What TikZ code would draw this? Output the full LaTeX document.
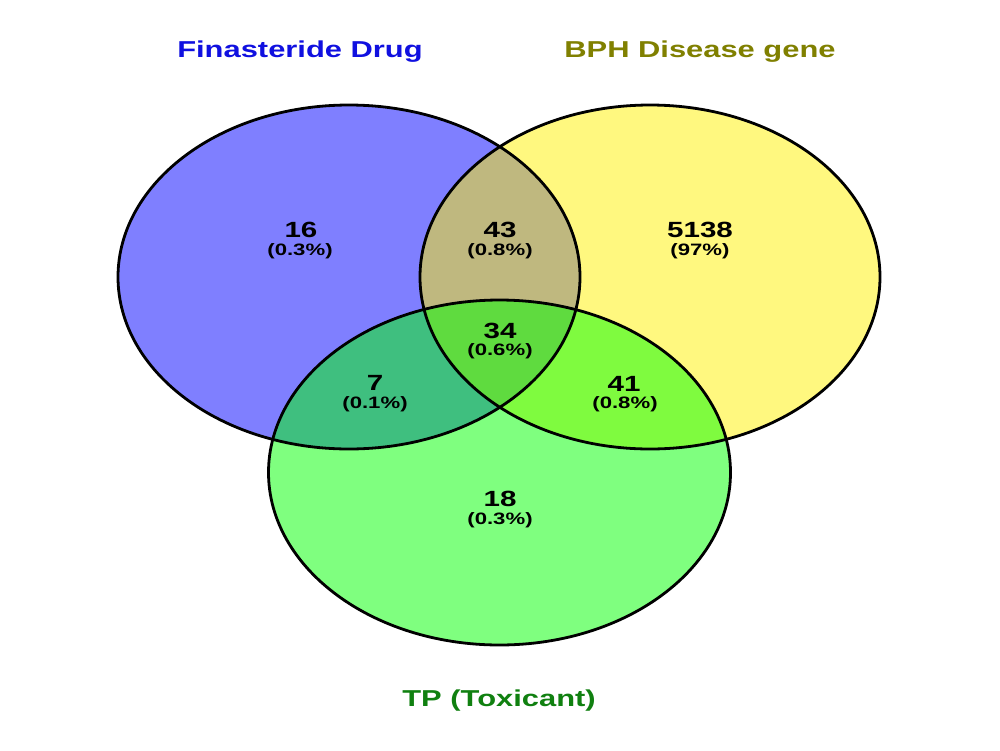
\documentclass[tikz,border=0pt]{standalone}
\usepackage{fontspec}
\setmainfont{Liberation Sans}
\definecolor{ttlblue}{RGB}{16,16,224}
\definecolor{ttlolive}{RGB}{128,128,0}
\definecolor{ttlgreen}{RGB}{16,128,16}
\tikzset{
  setfill/.style={fill opacity=0.5},
  outline/.style={draw=black, line width=2.8pt},
  num/.style={font=\bfseries\fontsize{22}{24}\selectfont, xscale=1.343, anchor=base, inner sep=0pt},
  pct/.style={font=\bfseries\fontsize{16.5}{18}\selectfont, xscale=1.343, anchor=base, inner sep=0pt},
  ttl/.style={font=\bfseries\fontsize{23}{26}\selectfont, xscale=1.343, anchor=base, inner sep=0pt},
}
\begin{document}
\begin{tikzpicture}[x=1pt, y=-1pt]
  \fill[white] (0,0) rectangle (1000,750);
  \useasboundingbox (0,0) rectangle (1000,750);
  % fills
  \fill[blue, setfill] (349,277) ellipse [x radius=231pt, y radius=172pt];
  \fill[yellow, setfill] (650,277) ellipse [x radius=230pt, y radius=172pt];
  \fill[green, setfill] (499.5,472.5) ellipse [x radius=231pt, y radius=172.5pt];
  % outlines
  \draw[outline] (349,277) ellipse [x radius=231pt, y radius=172pt];
  \draw[outline] (650,277) ellipse [x radius=230pt, y radius=172pt];
  \draw[outline] (499.5,472.5) ellipse [x radius=231pt, y radius=172.5pt];
  % titles
  \node[ttl, text=ttlblue] (tfin) at (300,57) {Finasteride Drug};
  \node[ttl, text=ttlolive] (tbph) at (700,57) {BPH Disease gene};
  \node[ttl, text=ttlgreen] (ttp) at (499,706) {TP (Toxicant)};
  % counts
  \node[num] (n16) at (301,237) {16};
  \node[pct] (p16) at (300,255) {(0.3\%)};
  \node[num] (n43) at (500,237) {43};
  \node[pct] (p43) at (500,255) {(0.8\%)};
  \node[num] (n5138) at (700,237) {5138};
  \node[pct] (p5138) at (700,255) {(97\%)};
  \node[num] (n34) at (500,338) {34};
  \node[pct] (p34) at (500,355) {(0.6\%)};
  \node[num] (n7) at (375,390) {7};
  \node[pct] (p7) at (375,408) {(0.1\%)};
  \node[num] (n41) at (624,391) {41};
  \node[pct] (p41) at (625,408) {(0.8\%)};
  \node[num] (n18) at (500,506) {18};
  \node[pct] (p18) at (500,524) {(0.3\%)};
\end{tikzpicture}
\end{document}
